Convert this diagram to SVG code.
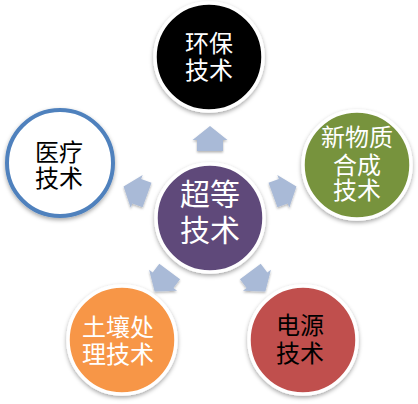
<svg xmlns="http://www.w3.org/2000/svg" width="418" height="404" viewBox="0 0 418 404">
<style>
.node circle{stroke:#ffffff;stroke-width:3.5}
.t{font-family:"Noto Sans CJK SC","Noto Sans CJK JP",sans-serif;text-anchor:middle;font-size:24px}
.w{fill:#ffffff}
.b{fill:#000000}
.arrow{fill:#a9bad7}
</style>
<defs>
<filter id="sh" x="-20%" y="-20%" width="140%" height="140%">
<feDropShadow dx="0" dy="2" stdDeviation="2" flood-color="#000" flood-opacity="0.35"/>
</filter>
<filter id="ash" x="-30%" y="-30%" width="160%" height="160%">
<feDropShadow dx="0" dy="1.5" stdDeviation="1.2" flood-color="#000" flood-opacity="0.3"/>
</filter>
<path id="arr" d="M0,-92 L17.5,-78 L13,-78 L13,-67 L-13,-67 L-13,-78 L-17.5,-78 Z"/>
</defs>
<rect width="418" height="404" fill="#ffffff"/>
<g id="connectors" filter="url(#ash)">
<use href="#arr" class="arrow" transform="translate(210,218)"/>
<use href="#arr" class="arrow" transform="translate(210,218) rotate(70)"/>
<use href="#arr" class="arrow" transform="translate(210,218) rotate(143)"/>
<use href="#arr" class="arrow" transform="translate(210,218) rotate(-143)"/>
<use href="#arr" class="arrow" transform="translate(210,218) rotate(-70)"/>
</g>
<g id="node-center" class="node">
<circle cx="210" cy="218" r="54" fill="#5f497a" filter="url(#sh)"/>
<text class="t w" style="font-size:30px"><tspan x="210" y="205">超等</tspan><tspan x="210" y="241">技术</tspan></text>
</g>
<g id="node-env" class="node">
<circle cx="209" cy="57" r="54" fill="#000000" filter="url(#sh)"/>
<text class="t w"><tspan x="209" y="52">环保</tspan><tspan x="209" y="79">技术</tspan></text>
</g>
<g id="node-material" class="node">
<circle cx="357" cy="165" r="54" fill="#77933c" filter="url(#sh)"/>
<text class="t w"><tspan x="357" y="146">新物质</tspan><tspan x="357" y="174">合成</tspan><tspan x="357" y="199">技术</tspan></text>
</g>
<g id="node-power" class="node">
<circle cx="303" cy="340" r="54" fill="#c0504d" filter="url(#sh)"/>
<text class="t b"><tspan x="300" y="334">电源</tspan><tspan x="300" y="362">技术</tspan></text>
</g>
<g id="node-soil" class="node">
<circle cx="122" cy="340" r="54" fill="#f79646" filter="url(#sh)"/>
<text class="t w"><tspan x="118" y="336">土壤处</tspan><tspan x="118" y="363">理技术</tspan></text>
</g>
<g id="node-medical">
<circle cx="60" cy="163" r="53" fill="#ffffff" stroke="#4f81bd" stroke-width="4" filter="url(#sh)"/>
<text class="t b"><tspan x="59" y="161">医疗</tspan><tspan x="59" y="187">技术</tspan></text>
</g>
</svg>
